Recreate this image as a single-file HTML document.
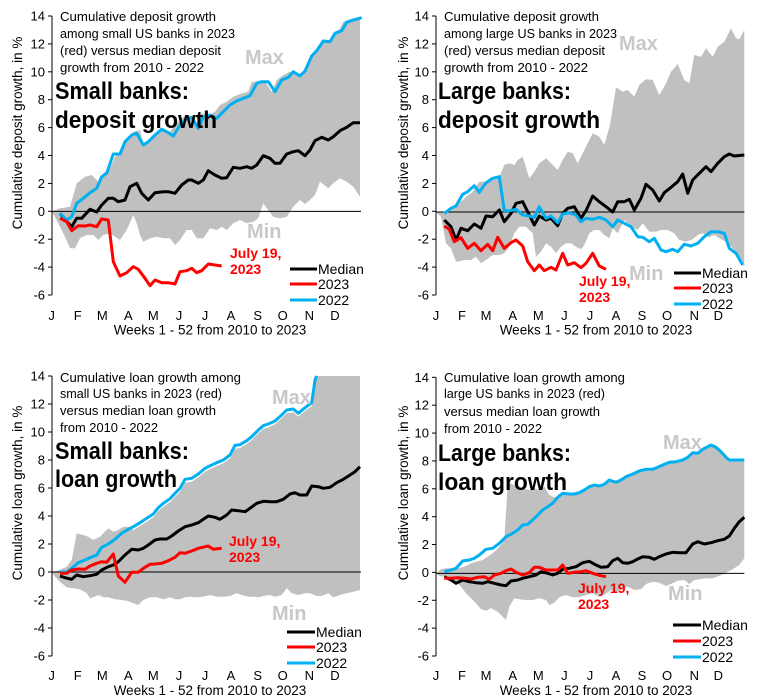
<!DOCTYPE html>
<html><head><meta charset="utf-8"><style>
html,body{margin:0;padding:0;background:#fff;}
svg{display:block;font-family:"Liberation Sans",sans-serif;}
</style></head><body>
<svg id="s" width="772" height="700" xmlns="http://www.w3.org/2000/svg"></svg>
<script>
const S=document.getElementById('s');
let out='';
function pts(a,ox,oy){return a.map(p=>(ox+p[0]/3).toFixed(1)+','+(oy+p[1]/3).toFixed(1)).join(' ');}
function panel(o){
  const ox=o.ox, oy=o.oy;
  // band
  out+=`<polygon points="${pts(o.up.concat(o.low),ox,oy)}" fill="#c0c0c0"/>`;
  // axes
  const ax=ox+o.axz/3, z=oy+o.zero/3, t14=oy+o.top/3, tm6=oy+o.bot/3, right=ox+o.right/3;
  out+=`<line x1="${ax}" y1="${t14}" x2="${ax}" y2="${tm6}" stroke="#000" stroke-width="1"/>`;
  out+=`<line x1="${ax}" y1="${z}" x2="${right}" y2="${z}" stroke="#000" stroke-width="1"/>`;
  const step=(tm6-t14)/10;
  for(let i=0;i<=10;i++){const y=t14+i*step;const v=14-2*i;
    out+=`<line x1="${ax-4}" y1="${y}" x2="${ax}" y2="${y}" stroke="#000"/>`;
    out+=`<text x="${ax-7}" y="${y+4.5}" font-size="13" text-anchor="end">${v}</text>`;}
  const mx=o.months, ml='JFMAMJJASOND';
  for(let i=0;i<12;i++) out+=`<text x="${ox+mx[i]/3}" y="${oy+o.my/3+5}" font-size="13" text-anchor="middle">${ml[i]}</text>`;
  out+=`<text x="${ox+210}" y="${oy+o.xty/3+5}" font-size="13.5" text-anchor="middle">Weeks 1 - 52 from 2010 to 2023</text>`;
  out+=`<text transform="translate(${ox+22},${oy+133}) rotate(-90)" font-size="13.5" text-anchor="middle">${o.ytitle}</text>`;
  // series
  out+=`<polyline points="${pts(o.med,ox,oy)}" fill="none" stroke="#000" stroke-width="3" stroke-linejoin="round"/>`;
  out+=`<polyline points="${pts(o.b22,ox,oy)}" fill="none" stroke="#00b0f0" stroke-width="3" stroke-linejoin="round"/>`;
  out+=`<polyline points="${pts(o.r23,ox,oy)}" fill="none" stroke="#ff0000" stroke-width="3" stroke-linejoin="round"/>`;
  // title text
  o.title.forEach((t,i)=>{out+=`<text x="${o.tx}" y="${o.ty[i]}" font-size="13.3" textLength="${t[1]}" lengthAdjust="spacingAndGlyphs">${t[0]}</text>`;});
  o.big.forEach((t,i)=>{out+=`<text x="${o.bx}" y="${o.by[i]}" font-size="24" font-weight="bold" textLength="${t[1]}" lengthAdjust="spacingAndGlyphs">${t[0]}</text>`;});
  out+=`<text x="${o.max[0]}" y="${o.max[1]}" font-size="20" font-weight="bold" fill="#c8c8c8">Max</text>`;
  out+=`<text x="${o.min[0]}" y="${o.min[1]}" font-size="20" font-weight="bold" fill="#c8c8c8">Min</text>`;
  out+=`<text x="${o.jul[0]}" y="${o.jul[1]}" font-size="14" font-weight="bold" fill="#ff0000">July 19,</text>`;
  out+=`<text x="${o.jul[0]}" y="${o.jul[1]+16}" font-size="14" font-weight="bold" fill="#ff0000">2023</text>`;
  const L=o.leg;const cols=['#000','#ff0000','#00b0f0'],lab=['Median','2023','2022'];
  for(let i=0;i<3;i++){out+=`<line x1="${L[0]}" y1="${L[2][i]}" x2="${L[1]}" y2="${L[2][i]}" stroke="${cols[i]}" stroke-width="3"/>`;
    out+=`<text x="${L[1]+1}" y="${L[2][i]+5}" font-size="14">${lab[i]}</text>`;}
}
const M1=[155,233,307,385,460,537,615,693,773,848,928,1005];
const M2=[150,228,300,380,457,535,612,690,768,843,925,997];
// TL
const tlB22=[[180,640],[200,660],[215,650],[230,610],[250,595],[270,578],[290,565],[305,530],[320,520],[340,462],[360,462],[375,425],[395,405],[410,400],[430,435],[445,425],[465,405],[485,388],[505,398],[520,408],[540,375],[555,360],[575,352],[595,385],[610,352],[630,345],[650,355],[670,335],[690,315],[710,303],[730,295],[750,287],[770,250],[785,245],[805,245],[825,275],[845,240],[865,232],[880,215],[900,228],[915,213],[935,168],[950,152],[970,123],[990,125],[1005,100],[1025,92],[1040,67],[1060,60],[1085,53]];
panel({ox:0,oy:0,axz:156,zero:634,top:48,bot:885,right:1083,months:M1,my:945,xty:988,ytitle:"Cumulative deposit growth, in %",
up:[[155,634],[180,625],[210,620],[230,550],[255,530],[275,525],[295,545],[310,520],[330,505],[345,470],[360,460],[380,420],[400,395],[420,390],[430,430],[450,420],[470,400],[490,385],[510,395],[525,375],[545,355],[560,345],[575,350],[590,385],[605,340],[625,345],[645,335],[660,315],[680,305],[700,290],[720,282],[745,275],[755,245],[775,245],[795,245],[815,275],[830,240],[850,225],[870,215],[890,225],[910,215],[930,180],[950,155],[965,125],[985,125],[1000,100],[1015,95],[1030,65],[1050,58],[1080,52]],
low:[[1080,590],[1060,560],[1040,545],[1020,535],[1000,550],[985,565],[960,545],[945,585],[930,600],[915,612],[900,600],[880,620],[860,650],[840,655],[820,650],[800,625],[790,610],[775,655],[760,665],[740,670],[720,660],[700,670],[680,690],[665,680],[650,690],[630,685],[610,715],[590,715],[575,690],[560,690],[540,720],[525,735],[510,715],[490,715],[470,710],[450,715],[430,725],[420,705],[410,670],[400,645],[380,690],[360,720],[345,710],[330,700],[310,705],[295,720],[280,705],[260,705],[240,715],[225,745],[210,745],[195,710],[180,680],[165,650],[155,634]],
med:[[180,640],[200,665],[215,680],[230,655],[245,655],[270,628],[290,636],[305,615],[325,595],[340,595],[355,605],[375,600],[390,560],[410,550],[425,580],[445,600],[465,578],[490,575],[505,575],[525,580],[545,555],[565,540],[575,540],[595,550],[610,540],[625,512],[645,525],[665,535],[680,533],[700,502],[720,505],[740,500],[755,505],[770,495],[790,467],[810,475],[825,490],[840,490],[860,462],[880,455],[895,452],[915,467],[930,450],[945,422],[965,412],[985,420],[1000,410],[1020,392],[1040,382],[1060,368],[1080,368]],
b22:tlB22,
r23:[[180,655],[200,665],[215,692],[235,677],[255,678],[270,675],[290,680],[305,657],[325,660],[340,785],[360,828],[380,818],[400,800],[415,808],[435,835],[450,857],[465,840],[485,848],[505,848],[525,852],[540,815],[560,812],[575,805],[590,818],[605,812],[625,792],[645,795],[665,798]],
title:[["Cumulative deposit growth",156],["among small US banks in 2023",175],["(red) versus median deposit",161],["growth from 2010 - 2022",144]],tx:60,ty:[21,38,55,72],
big:[["Small banks:",134],["deposit growth",162]],bx:55,by:[99,128],
max:[245,64],min:[247,238],jul:[230,258],leg:[290,317,[269,284,300]]});
// TR
panel({ox:386,oy:0,axz:150,zero:636,top:48,bot:885,right:1075,months:M2,my:945,xty:988,ytitle:"Cumulative deposit growth, in %",
up:[[150,636],[170,636],[185,636],[200,625],[220,610],[240,590],[260,575],[280,545],[300,545],[320,530],[340,530],[355,495],[370,490],[385,495],[395,480],[410,470],[430,535],[445,515],[460,490],[480,475],[495,490],[515,510],[530,480],[545,455],[560,460],[575,490],[590,460],[605,430],[620,400],[640,410],[655,435],[672,375],[690,262],[710,275],[725,270],[745,290],[760,255],[780,238],[800,240],[820,285],[840,250],[855,215],[875,192],[895,240],[910,250],[925,165],[945,170],[960,145],[980,170],[995,140],[1015,125],[1035,85],[1050,115],[1060,118],[1075,90]],
low:[[1075,800],[1060,770],[1040,745],[1020,725],[1000,715],[985,705],[970,712],[950,700],[935,705],[920,718],[900,725],[880,720],[865,700],[845,690],[825,690],[810,695],[790,695],[770,670],[755,690],[735,680],[715,660],[695,700],[680,685],[670,715],[655,705],[640,690],[625,690],[610,700],[595,735],[585,748],[570,740],[555,730],[540,730],[525,740],[510,760],[495,740],[480,730],[465,755],[450,770],[440,700],[420,680],[400,680],[385,700],[370,740],[355,760],[340,765],[320,765],[300,780],[285,790],[270,770],[255,780],[235,780],[225,783],[210,785],[195,745],[180,730],[165,650],[150,636]],
med:[[175,660],[195,680],[210,720],[225,685],[245,692],[265,672],[285,685],[300,648],[320,650],[340,630],[355,665],[375,640],[390,610],[410,605],[430,645],[445,675],[460,648],[480,660],[495,655],[515,677],[530,640],[545,625],[565,620],[585,655],[600,632],[620,588],[640,605],[660,620],[680,636],[695,605],[715,605],[730,598],[745,630],[765,595],[780,553],[800,570],[820,603],[835,578],[855,562],[875,545],[890,522],[905,580],[920,540],[940,520],[960,500],[975,515],[995,490],[1015,470],[1030,462],[1045,468],[1075,465]],
b22:[[175,640],[195,625],[210,618],[230,583],[245,575],[265,557],[280,577],[300,548],[320,535],[340,530],[355,632],[370,632],[390,628],[410,645],[430,648],[445,652],[460,620],[480,655],[495,648],[515,668],[530,642],[550,638],[570,645],[585,665],[600,655],[620,658],[640,652],[660,660],[680,680],[695,660],[715,670],[735,680],[755,710],[770,712],[790,725],[805,715],[825,750],[840,755],[860,748],[875,755],[895,733],[915,738],[935,730],[955,710],[975,695],[995,695],[1015,700],[1030,745],[1050,760],[1070,795]],
r23:[[175,678],[190,688],[205,725],[225,713],[245,745],[265,730],[285,752],[305,733],[320,752],[335,712],[355,745],[375,728],[390,720],[410,738],[425,785],[445,812],[460,795],[475,812],[495,802],[510,810],[530,760],[545,795],[565,788],[585,803],[600,790],[620,760],[640,798],[660,808]],
title:[["Cumulative deposit growth",155],["among large US banks in 2023",173],["(red) versus median deposit",161],["growth from 2010 - 2022",144]],tx:444,ty:[21,38,55,72],
big:[["Large banks:",133],["deposit growth",162]],bx:438,by:[99,128],
max:[619,50],min:[629,280],jul:[579,286],leg:[674,701,[273,288,304]]});
// BL
const blB22=[[180,636],[200,636],[215,625],[235,608],[255,600],[270,593],[290,585],[305,562],[325,552],[345,538],[365,520],[385,508],[400,500],[420,488],[440,475],[460,462],[475,443],[490,430],[510,416],[525,400],[540,385],[555,358],[575,355],[595,342],[615,325],[635,315],[650,308],[670,300],[690,285],[705,256],[720,254],[740,242],[755,230],[775,210],[790,197],[805,192],[825,183],[845,165],[860,150],[880,147],[895,160],[915,143],[935,128],[945,60],[950,48]];
const blUp=[[155,636],[180,630],[200,620],[215,600],[230,520],[250,525],[265,530],[280,540],[300,530],[310,520],[325,505],[340,515],[355,510],[370,500],[385,500]].concat(blB22.filter(p=>p[0]>=400&&p[0]<=935).map(p=>[p[0],p[1]+10])).concat([[945,48],[1080,48]]);
panel({ox:0,oy:360,axz:156,zero:636,top:48,bot:888,right:1083,months:M1,my:945,xty:990,ytitle:"Cumulative loan growth, in %",
up:blUp,
low:[[1080,690],[1060,695],[1040,700],[1020,705],[1000,712],[985,700],[965,708],[950,708],[930,700],[915,700],[895,705],[875,700],[860,685],[845,705],[825,710],[810,705],[790,708],[775,712],[760,710],[745,710],[725,705],[710,700],[690,708],[670,710],[650,710],[630,705],[610,710],[590,712],[570,710],[555,712],[540,718],[525,718],[510,712],[490,718],[470,712],[450,712],[430,720],[415,735],[400,730],[380,722],[365,720],[345,718],[325,712],[310,712],[295,705],[280,712],[270,715],[260,700],[240,688],[220,685],[200,682],[180,665],[165,650],[155,636]],
med:[[180,648],[195,653],[215,658],[230,645],[250,650],[270,647],[290,643],[305,630],[325,620],[340,615],[355,605],[375,585],[395,568],[415,570],[430,565],[445,555],[465,540],[480,537],[500,537],[515,528],[535,513],[555,500],[575,495],[595,488],[610,478],[625,468],[645,472],[660,478],[680,465],[695,450],[715,452],[735,455],[750,445],[770,430],[790,424],[810,425],[830,425],[850,418],[870,402],[885,398],[900,405],[920,405],[935,378],[955,380],[970,385],[990,382],[1010,368],[1030,358],[1050,345],[1065,335],[1080,320]],
b22:blB22,
r23:[[180,640],[200,640],[215,630],[235,627],[255,628],[270,618],[290,610],[305,605],[320,607],[340,582],[355,648],[375,667],[395,637],[415,637],[430,625],[450,613],[465,612],[485,610],[505,602],[525,592],[540,578],[555,580],[575,573],[595,565],[615,560],[625,558],[640,568],[665,565]],
title:[["Cumulative loan growth among",181],["small US banks in 2023 (red)",162],["versus median loan growth",156],["from 2010 - 2022",98]],tx:60,ty:[382,398,415,432],
big:[["Small banks:",134],["loan growth",122]],bx:55,by:[459,487],
max:[272,404],min:[272,620],jul:[229,546],leg:[287,315,[632,647,663]]});
// BR
const brB22=[[175,635],[195,630],[210,625],[230,603],[250,600],[265,595],[280,585],[300,568],[320,565],[340,550],[360,530],[380,520],[395,510],[410,495],[425,493],[440,480],[455,465],[470,450],[485,440],[500,430],[515,412],[530,400],[550,402],[565,402],[580,398],[595,390],[610,380],[625,375],[640,378],[655,373],[670,360],[690,367],[705,360],[720,350],[740,342],[760,333],[780,328],[800,328],[815,322],[830,315],[850,307],[870,305],[890,300],[905,292],[920,278],[935,280],[950,268],[965,260],[975,255],[990,262],[1005,275],[1020,292],[1030,300],[1075,300]];
const brUp=[[150,640],[165,628],[180,625],[200,625],[215,625],[235,620],[255,610],[270,605],[290,600],[305,590],[320,580],[340,560],[355,540],[365,375],[375,370],[390,380],[410,385],[430,390],[445,385],[460,390],[475,380],[490,405],[505,412],[520,408],[540,400]].concat(brB22.filter(p=>p[0]>=550));
panel({ox:386,oy:360,axz:150,zero:640,top:52,bot:888,right:1075,months:M2,my:945,xty:990,ytitle:"Cumulative loan growth, in %",
up:brUp,
low:[[1075,595],[1060,615],[1040,628],[1020,638],[1000,648],[980,655],[960,655],[940,658],[925,660],[910,672],[895,660],[875,662],[860,670],[840,678],[820,668],[800,665],[780,672],[765,688],[745,690],[725,680],[705,685],[690,700],[675,690],[655,705],[640,710],[620,700],[600,705],[580,712],[560,712],[540,705],[520,712],[505,728],[490,735],[480,720],[460,715],[440,720],[420,720],[400,718],[385,715],[370,740],[360,780],[350,770],[335,755],[315,745],[300,752],[285,748],[270,730],[255,715],[240,700],[225,680],[210,665],[195,655],[175,650],[160,648],[150,640]],
med:[[175,650],[195,660],[210,670],[230,660],[250,665],[270,668],[290,670],[305,665],[325,670],[345,675],[360,677],[375,663],[395,660],[410,655],[430,650],[450,645],[465,635],[485,640],[500,645],[515,640],[530,628],[550,625],[570,620],[590,608],[610,604],[630,615],[645,622],[665,620],[680,602],[695,595],[710,608],[725,610],[740,605],[755,597],[770,590],[790,592],[805,598],[820,590],[840,582],[860,577],[880,578],[900,578],[920,552],[935,545],[955,552],[975,548],[995,542],[1015,538],[1030,528],[1045,505],[1060,485],[1075,472]],
b22:brB22,
r23:[[175,655],[195,655],[215,653],[235,655],[255,657],[275,652],[295,650],[310,658],[325,645],[345,640],[360,632],[375,627],[390,637],[410,645],[430,638],[445,622],[460,622],[480,630],[500,630],[515,630],[530,615],[545,640],[565,637],[585,635],[600,632],[620,640],[640,646],[660,650]],
title:[["Cumulative loan growth among",181],["large US banks in 2023 (red)",161],["versus median loan growth",156],["from 2010 - 2022",98]],tx:444,ty:[382,398,416,433],
big:[["Large banks:",133],["loan growth",129]],bx:438,by:[461,490],
max:[663,449],min:[668,600],jul:[578,593],leg:[673,701,[625,641,657]]});
S.innerHTML=out;
</script>
</body></html>
